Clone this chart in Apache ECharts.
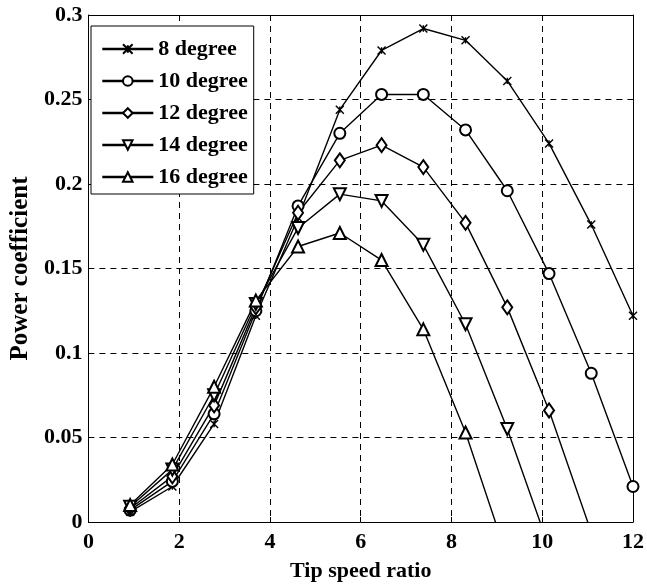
<!DOCTYPE html>
<html>
<head>
<meta charset="utf-8">
<script src="https://cdn.jsdelivr.net/npm/echarts@6/dist/echarts.min.js"></script>
<style>
html,body{margin:0;padding:0;background:#fff;}
#chart{width:647px;height:588px;}
</style>
</head>
<body>
<div id="chart"></div>
<script>
var tsr = [0.92, 1.85, 2.77, 3.69, 4.62, 5.54, 6.46, 7.38, 8.31, 9.23, 10.15, 11.08, 12.0];
var cp8  = [0.006, 0.021, 0.058, 0.122, 0.180, 0.244, 0.279, 0.292, 0.285, 0.261, 0.224, 0.176, 0.122];
var cp10 = [0.007, 0.024, 0.064, 0.125, 0.187, 0.230, 0.253, 0.253, 0.232, 0.196, 0.147, 0.088, 0.021];
var cp12 = [0.008, 0.027, 0.069, 0.127, 0.183, 0.214, 0.223, 0.210, 0.177, 0.127, 0.066, -0.006];
var cp14 = [0.009, 0.031, 0.075, 0.129, 0.174, 0.194, 0.190, 0.164, 0.117, 0.055, -0.015];
var cp16 = [0.010, 0.034, 0.080, 0.131, 0.163, 0.171, 0.155, 0.114, 0.053, -0.021];
var seriesNames = ['8 degree', '10 degree', '12 degree', '14 degree', '16 degree'];
var xTickLabels = ['0', '2', '4', '6', '8', '10', '12'];
var yTickLabels = ['0', '0.05', '0.1', '0.15', '0.2', '0.25', '0.3'];

var font = 'Liberation Serif';
function pairs(vals) { return vals.map(function (v, i) { return [tsr[i], v]; }); }

var markers = [
  {symbol: 'path://M0,0L10,10M10,0L0,10M5,1L5,9', size: 8, rotate: 0},
  {symbol: 'emptyCircle', size: 11, rotate: 0},
  {symbol: 'emptyDiamond', size: [10, 14], rotate: 0},
  {symbol: 'emptyTriangle', size: 12, rotate: 180},
  {symbol: 'emptyTriangle', size: 12, rotate: 0}
];
var allData = [cp8, cp10, cp12, cp14, cp16];

var series = allData.map(function (d, k) {
  return {
    name: seriesNames[k],
    type: 'line',
    data: pairs(d),
    symbol: markers[k].symbol,
    symbolSize: markers[k].size,
    symbolRotate: markers[k].rotate,
    showAllSymbol: true,
    clip: true,
    color: '#000',
    lineStyle: {color: '#000', width: 1.4},
    itemStyle: {color: '#000', borderColor: '#000', borderWidth: 1.4},
    emphasis: {disabled: true},
    z: 3
  };
});

var tickLabelStyle = {color: '#000', fontFamily: font, fontWeight: 'bold', fontSize: 22};

var option = {
  animation: false,
  backgroundColor: '#fff',
  grid: {left: 82, right: 10, top: 15, bottom: 66, containLabel: false},
  legend: {
    orient: 'vertical',
    left: 91, top: 26,
    itemWidth: 51, itemHeight: 12, itemGap: 10,
    padding: [12, 6, 6, 10],
    backgroundColor: '#fff',
    borderColor: '#000', borderWidth: 1,
    lineStyle: {width: 2.6},
    textStyle: {color: '#000', fontFamily: font, fontWeight: 'bold', fontSize: 22, lineHeight: 22},
    data: seriesNames,
    selectedMode: false
  },
  xAxis: [{
    type: 'value', min: 0, max: 12, interval: 2,
    name: 'Tip speed ratio', nameLocation: 'middle', nameGap: 38,
    nameTextStyle: {color: '#000', fontFamily: font, fontWeight: 'bold', fontSize: 22},
    axisLine: {show: true, lineStyle: {color: '#000', width: 1}},
    axisTick: {show: true, inside: true, length: 5, lineStyle: {color: '#000'}},
    axisLabel: Object.assign({margin: 9, formatter: function (v) { return xTickLabels[Math.round(v / 2)]; }}, tickLabelStyle),
    splitLine: {show: true, lineStyle: {color: '#000', type: [6, 5], width: 1}}
  }, {
    type: 'value', min: 0, max: 12, interval: 2, position: 'top',
    axisLine: {show: true, onZero: false, lineStyle: {color: '#000', width: 1}},
    axisTick: {show: true, inside: true, length: 5, lineStyle: {color: '#000'}},
    axisLabel: {show: false}, splitLine: {show: false}
  }],
  yAxis: [{
    type: 'value', min: 0, max: 0.3, interval: 0.05,
    name: 'Power coefficient', nameLocation: 'middle', nameGap: 47,
    nameTextStyle: {color: '#000', fontFamily: font, fontWeight: 'bold', fontSize: 25},
    axisLine: {show: true, lineStyle: {color: '#000', width: 1}},
    axisTick: {show: true, inside: true, length: 5, lineStyle: {color: '#000'}},
    axisLabel: Object.assign({margin: 6, formatter: function (v) { return yTickLabels[Math.round(v / 0.05)]; }}, tickLabelStyle),
    splitLine: {show: true, lineStyle: {color: '#000', type: [6, 5], width: 1}}
  }, {
    type: 'value', min: 0, max: 0.3, interval: 0.05, position: 'right',
    axisLine: {show: true, onZero: false, lineStyle: {color: '#000', width: 1}},
    axisTick: {show: true, inside: true, length: 5, lineStyle: {color: '#000'}},
    axisLabel: {show: false}, splitLine: {show: false}
  }],
  series: series
};

var chart = echarts.init(document.getElementById('chart'), null, {renderer: 'canvas'});
chart.setOption(option);
</script>
</body>
</html>
